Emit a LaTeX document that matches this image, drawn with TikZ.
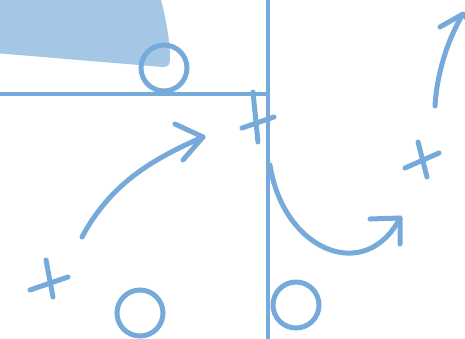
\documentclass[tikz,border=0pt]{standalone}
\definecolor{chalk}{RGB}{118,170,218}
\definecolor{zone}{RGB}{163,199,228}
\newcommand{\PW}{5pt}

\begin{document}
\begin{tikzpicture}[x=1pt, y=-1pt,
    stroke/.style={draw=chalk, line width=\PW, line cap=round, line join=round},
    fieldline/.style={draw=chalk, line width=3.2pt},
    player/.style={circle, draw=chalk, line width=\PW, minimum size=46pt, inner sep=0pt},
  ]
  \useasboundingbox (0,0) rectangle (465,338);
  \clip (0,0) rectangle (465,338);

  % shaded zone in the corner
  \fill[zone] (-5,-5) -- (160,-5) .. controls (166,20) and (170,40) .. (170,58)
    .. controls (170,65) and (168,67) .. (163,67) -- (-5,53) -- cycle;

  % field markings
  \coordinate (hl) at (-5,94);
  \coordinate (vt) at (268,-5);
  \coordinate (vb) at (268,345);
  \draw[fieldline] (hl) -- (vt |- hl);
  \draw[fieldline] (vt) -- (vb);

  % circles
  \node[player] (oA) at (164,68) {};
  \node[player] (oB) at (140,313) {};
  \node[player] (oC) at (296,305) {};

  % crosses
  \draw[stroke] (253,92) -- (258,142);
  \draw[stroke] (242,128) -- (274,117);
  \draw[stroke] (46,260) -- (53,297);
  \draw[stroke] (30,290) -- (68,277);
  \draw[stroke] (418,142) -- (427,177);
  \draw[stroke] (405,168) -- (439,153);

  % runs
  \coordinate (s1) at (82,237);  \coordinate (t1) at (203,137);
  \coordinate (s2) at (270,165); \coordinate (t2) at (400,218);
  \coordinate (s3) at (435,106); \coordinate (t3) at (463,14);
  \draw[stroke] (s1) .. controls (110,185) and (150,160) .. (t1);
  \draw[stroke] (175,124) -- (t1) -- (183,160);
  \draw[stroke] (s2) .. controls (283,250) and (365,285) .. (t2);
  \draw[stroke] (370,219) -- (t2) -- (400,244);
  \draw[stroke] (s3) .. controls (437,70) and (450,35) .. (t3);
  \draw[stroke] (440,27) -- (t3) -- (478,30);

\end{tikzpicture}
\end{document}
